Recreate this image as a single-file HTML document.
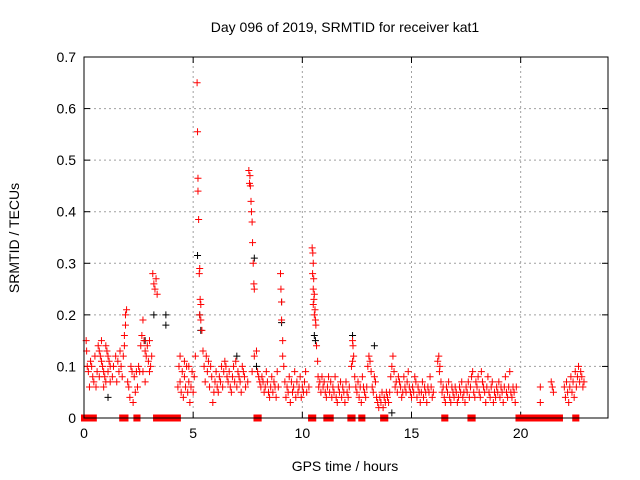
<!DOCTYPE html>
<html><head><meta charset="utf-8"><style>
body{margin:0;background:#fff}
svg{display:block;font-family:"Liberation Sans",sans-serif}
</style></head><body>
<svg id="chart" width="640" height="480">
<text x="345" y="32" font-size="14" text-anchor="middle">Day 096 of 2019, SRMTID for receiver kat1</text>
<text x="345" y="471" font-size="14" text-anchor="middle">GPS time / hours</text>
<text transform="translate(19,238) rotate(-90)" font-size="14" text-anchor="middle">SRMTID / TECUs</text>
<g id="grid"></g>
<g id="axes"></g>
<g id="blackPts"></g>
<g id="redPts"></g>
<g id="zeroPts"></g>
<rect x="84" y="57" width="524" height="361" fill="none" stroke="#000"/>
</svg>
<script>
const xTicks=[0,5,10,15,20];
const yTicks=[0,0.1,0.2,0.3,0.4,0.5,0.6,0.7];
const yTickLabels=["0","0.1","0.2","0.3","0.4","0.5","0.6","0.7"];
const redHours=[0.1,0.12,0.15,0.2,0.25,0.3,0.35,0.4,0.45,0.5,0.55,0.6,0.65,0.7,0.75,0.8,0.85,0.9,0.95,1.0,1.05,1.1,1.15,1.2,0.7,0.8,0.9,1.0,1.1,1.2,1.3,1.35,1.45,1.5,1.55,1.6,1.65,1.7,1.75,1.8,1.85,1.9,1.95,1.9,1.85,2.0,2.05,2.1,2.15,2.2,2.25,2.3,2.35,2.4,2.45,2.5,2.55,2.6,2.65,2.7,2.75,2.8,2.85,2.9,2.95,3.0,3.05,3.1,3.15,3.2,3.25,3.3,3.35,2.7,2.8,3.0,
4.3,4.35,4.4,4.45,4.5,4.55,4.6,4.65,4.7,4.75,4.8,4.85,4.9,4.95,5.0,4.4,4.6,4.8,5.05,5.1,
5.18,5.2,5.22,5.22,5.25,5.3,5.28,5.32,5.35,5.3,5.35,5.4,5.45,5.5,5.55,5.6,5.65,5.7,5.75,5.8,5.85,5.9,5.95,6.0,6.05,6.1,6.15,6.2,6.25,6.3,6.35,6.4,6.45,6.5,6.55,6.6,6.65,6.7,6.75,6.8,6.85,6.9,6.95,7.0,7.05,7.1,7.15,7.2,7.25,7.3,7.35,7.4,
7.55,7.6,7.58,7.62,7.65,7.67,7.7,7.72,7.75,7.78,7.8,7.5,7.7,7.8,7.9,7.95,8.0,8.05,8.1,8.15,8.2,8.25,8.3,8.35,8.4,8.45,8.5,8.55,8.6,8.65,8.7,8.75,8.8,8.85,8.9,
9.0,9.02,9.05,9.05,9.1,9.1,9.15,9.2,9.25,9.3,9.35,9.4,9.45,9.5,9.55,9.6,9.65,9.7,9.75,9.8,9.85,9.9,9.95,10.0,10.05,10.1,10.15,10.2,10.3,
10.45,10.48,10.5,10.47,10.52,10.5,10.55,10.53,10.5,10.58,10.55,10.6,10.62,10.65,10.7,10.72,10.75,10.8,10.85,10.9,10.95,11.0,11.05,11.1,11.15,11.2,11.25,11.3,11.35,11.4,11.45,11.5,11.55,11.6,11.65,11.7,11.75,11.8,11.85,11.9,11.95,12.0,12.05,12.1,12.15,
12.25,12.3,12.32,12.35,12.3,12.4,12.45,12.5,12.55,12.6,12.65,12.7,12.75,12.8,12.85,12.9,12.95,13.0,13.05,13.1,13.15,13.2,13.25,13.3,13.35,13.4,13.45,13.5,13.55,13.6,13.65,13.7,13.75,13.8,13.85,13.9,13.95,14.0,14.05,14.1,14.15,14.2,14.25,14.3,14.35,14.4,14.45,14.5,14.55,14.6,14.65,14.7,14.75,14.8,14.85,14.9,14.95,15.0,15.05,15.1,15.15,15.2,15.25,15.3,15.35,15.4,15.45,15.5,15.55,15.6,15.65,15.7,15.75,15.8,15.85,15.9,15.95,16.0,
16.2,16.25,16.3,16.28,16.35,16.4,16.45,16.5,16.55,16.6,16.65,16.7,16.75,16.8,16.85,16.9,16.95,17.0,17.05,17.1,17.15,17.2,17.25,17.3,17.35,17.4,17.45,17.5,17.55,17.6,17.65,17.7,17.75,17.8,17.85,17.9,17.95,18.0,18.05,18.1,18.15,18.2,18.25,18.3,18.35,18.4,18.45,18.5,18.55,18.6,18.65,18.7,18.75,18.8,18.85,18.9,18.95,19.0,19.05,19.1,19.15,19.2,19.25,19.3,19.35,19.4,19.45,19.5,19.55,19.6,19.65,19.7,19.75,19.8,
20.9,20.9,21.4,21.45,21.5,
22.0,22.05,22.1,22.15,22.2,22.25,22.3,22.35,22.4,22.45,22.5,22.55,22.6,22.65,22.7,22.75,22.8,22.85,22.9];
const redValues=[0.15,0.13,0.10,0.09,0.06,0.11,0.10,0.08,0.07,0.12,0.06,0.09,0.14,0.13,0.12,0.11,0.10,0.09,0.08,0.07,0.13,0.12,0.11,0.10,0.08,0.15,0.06,0.14,0.09,0.07,0.08,0.10,0.12,0.07,0.11,0.09,0.13,0.10,0.08,0.12,0.16,0.20,0.21,0.18,0.14,0.07,0.06,0.04,0.10,0.09,0.03,0.08,0.05,0.09,0.06,0.10,0.09,0.14,0.16,0.19,0.15,0.13,0.12,0.14,0.11,0.15,0.10,0.12,0.28,0.26,0.25,0.27,0.24,0.09,0.07,0.09,
0.06,0.10,0.07,0.05,0.09,0.04,0.08,0.06,0.10,0.05,0.07,0.03,0.06,0.09,0.05,0.12,0.11,0.10,0.08,0.12,
0.65,0.555,0.465,0.44,0.385,0.29,0.28,0.23,0.22,0.20,0.19,0.17,0.13,0.10,0.07,0.12,0.09,0.11,0.06,0.10,0.08,0.03,0.05,0.07,0.09,0.06,0.05,0.08,0.07,0.10,0.06,0.09,0.11,0.10,0.08,0.07,0.09,0.06,0.05,0.08,0.10,0.07,0.11,0.06,0.09,0.08,0.07,0.05,0.10,0.09,0.08,0.06,
0.48,0.47,0.455,0.45,0.42,0.40,0.38,0.34,0.30,0.26,0.25,0.07,0.09,0.12,0.13,0.09,0.08,0.07,0.06,0.08,0.07,0.05,0.06,0.09,0.07,0.05,0.04,0.06,0.08,0.05,0.07,0.06,0.04,0.09,0.06,
0.28,0.25,0.225,0.19,0.15,0.12,0.10,0.07,0.04,0.06,0.05,0.08,0.03,0.07,0.05,0.06,0.09,0.04,0.07,0.05,0.06,0.08,0.04,0.06,0.05,0.07,0.09,0.05,0.06,
0.33,0.32,0.30,0.28,0.27,0.25,0.24,0.23,0.22,0.21,0.20,0.19,0.18,0.14,0.11,0.08,0.06,0.07,0.05,0.08,0.06,0.07,0.05,0.04,0.06,0.08,0.05,0.07,0.04,0.06,0.05,0.08,0.04,0.03,0.06,0.05,0.07,0.04,0.06,0.05,0.03,0.07,0.05,0.04,0.06,
0.10,0.15,0.14,0.12,0.11,0.08,0.06,0.05,0.07,0.04,0.06,0.03,0.08,0.06,0.05,0.04,0.06,0.10,0.12,0.11,0.09,0.06,0.05,0.08,0.07,0.04,0.03,0.02,0.04,0.03,0.05,0.02,0.04,0.03,0.05,0.04,0.03,0.05,0.08,0.10,0.12,0.09,0.06,0.07,0.05,0.08,0.07,0.06,0.04,0.05,0.08,0.06,0.05,0.07,0.09,0.06,0.05,0.04,0.06,0.05,0.08,0.07,0.04,0.06,0.05,0.03,0.05,0.07,0.04,0.06,0.05,0.03,0.06,0.05,0.08,0.06,0.04,0.05,
0.11,0.12,0.10,0.09,0.07,0.05,0.06,0.04,0.03,0.06,0.05,0.07,0.04,0.03,0.06,0.05,0.04,0.06,0.05,0.03,0.04,0.06,0.05,0.07,0.04,0.05,0.03,0.06,0.05,0.07,0.04,0.06,0.08,0.09,0.05,0.04,0.07,0.06,0.08,0.05,0.04,0.09,0.07,0.06,0.05,0.03,0.06,0.08,0.05,0.04,0.06,0.07,0.03,0.05,0.04,0.06,0.05,0.07,0.04,0.06,0.05,0.03,0.06,0.08,0.05,0.04,0.06,0.09,0.05,0.04,0.06,0.05,0.03,0.06,
0.06,0.03,0.07,0.06,0.05,
0.06,0.04,0.07,0.05,0.03,0.06,0.08,0.05,0.07,0.04,0.09,0.06,0.08,0.10,0.07,0.09,0.08,0.06,0.07];
const blackHours=[5.2,5.3,5.35,7.8,7.9,9.05,9.05,10.55,10.6,3.2,3.75,3.75,1.1,13.3,12.3,14.1,7.0,2.8];
const blackValues=[0.315,0.2,0.17,0.31,0.1,0.225,0.185,0.16,0.15,0.2,0.2,0.18,0.04,0.14,0.16,0.01,0.12,0.15];
const zeroStart=[0.0,0.4,1.75,2.4,3.3,7.9,10.4,11.1,12.2,12.7,13.7,16.5,17.7,19.9,22.5];
const zeroEnd=[0.2,0.45,1.9,2.45,4.3,8.0,10.5,11.3,12.3,12.75,13.8,16.55,17.8,21.8,22.55];

const NS="http://www.w3.org/2000/svg";
const X0=84,X1=608,Y0=418,Y1=57,XMAX=24,YMAX=0.7;
function xs(t){return X0+(X1-X0)*t/XMAX;}
function ys(v){return Y0-(Y0-Y1)*v/YMAX;}
function mk(tag,attrs,parent){const e=document.createElementNS(NS,tag);for(const k in attrs)e.setAttribute(k,attrs[k]);parent.appendChild(e);return e;}
const grid=document.getElementById('grid'),axes=document.getElementById('axes');
xTicks.forEach((t,i)=>{
  const x=xs(t);
  if(t>0){const g=mk('line',{x1:x,x2:x,y1:Y0,y2:Y1,stroke:'#a0a0a0','stroke-dasharray':'2,3'},grid);
  
  }
  mk('line',{x1:x,x2:x,y1:Y0,y2:Y0-6,stroke:'#000'},axes);
  mk('line',{x1:x,x2:x,y1:Y1,y2:Y1+6,stroke:'#000'},axes);
  const l=mk('text',{x:x,y:Y0+20,'font-size':14,'text-anchor':'middle'},axes);l.textContent=String(t);
  
  
});
yTicks.forEach((v,i)=>{
  const y=ys(v);
  if(v>0&&v<YMAX){const g=mk('line',{x1:X0,x2:X1,y1:y,y2:y,stroke:'#a0a0a0','stroke-dasharray':'2,3'},grid);
  
  }
  mk('line',{x1:X0,x2:X0+6,y1:y,y2:y,stroke:'#000'},axes);
  mk('line',{x1:X1,x2:X1-6,y1:y,y2:y,stroke:'#000'},axes);
  const l=mk('text',{x:X0-8,y:y+5,'font-size':14,'text-anchor':'end'},axes);l.textContent=yTickLabels[i];
  
  
});
function plus(g,t,v,c){
  const x=xs(t),y=ys(v);
  const p=mk('path',{d:`M${x-3.5},${y}h7M${x},${y-3.5}v7`,stroke:c,'stroke-width':1,fill:'none'},g);
  return p;
}
const bg=document.getElementById('blackPts');
blackHours.forEach((t,i)=>{const p=plus(bg,t,blackValues[i],'#000');
  
  });
const rg=document.getElementById('redPts');
redHours.forEach((t,i)=>{const p=plus(rg,t,redValues[i],'#ff0000');
  
  });
const zg=document.getElementById('zeroPts');
zeroStart.forEach((s,i)=>{
  const r=mk('rect',{x:xs(s)-3,y:Y0-3.5,width:xs(zeroEnd[i])-xs(s)+6,height:7,fill:'#ff0000'},zg);
  
  
});
</script>
</body></html>
